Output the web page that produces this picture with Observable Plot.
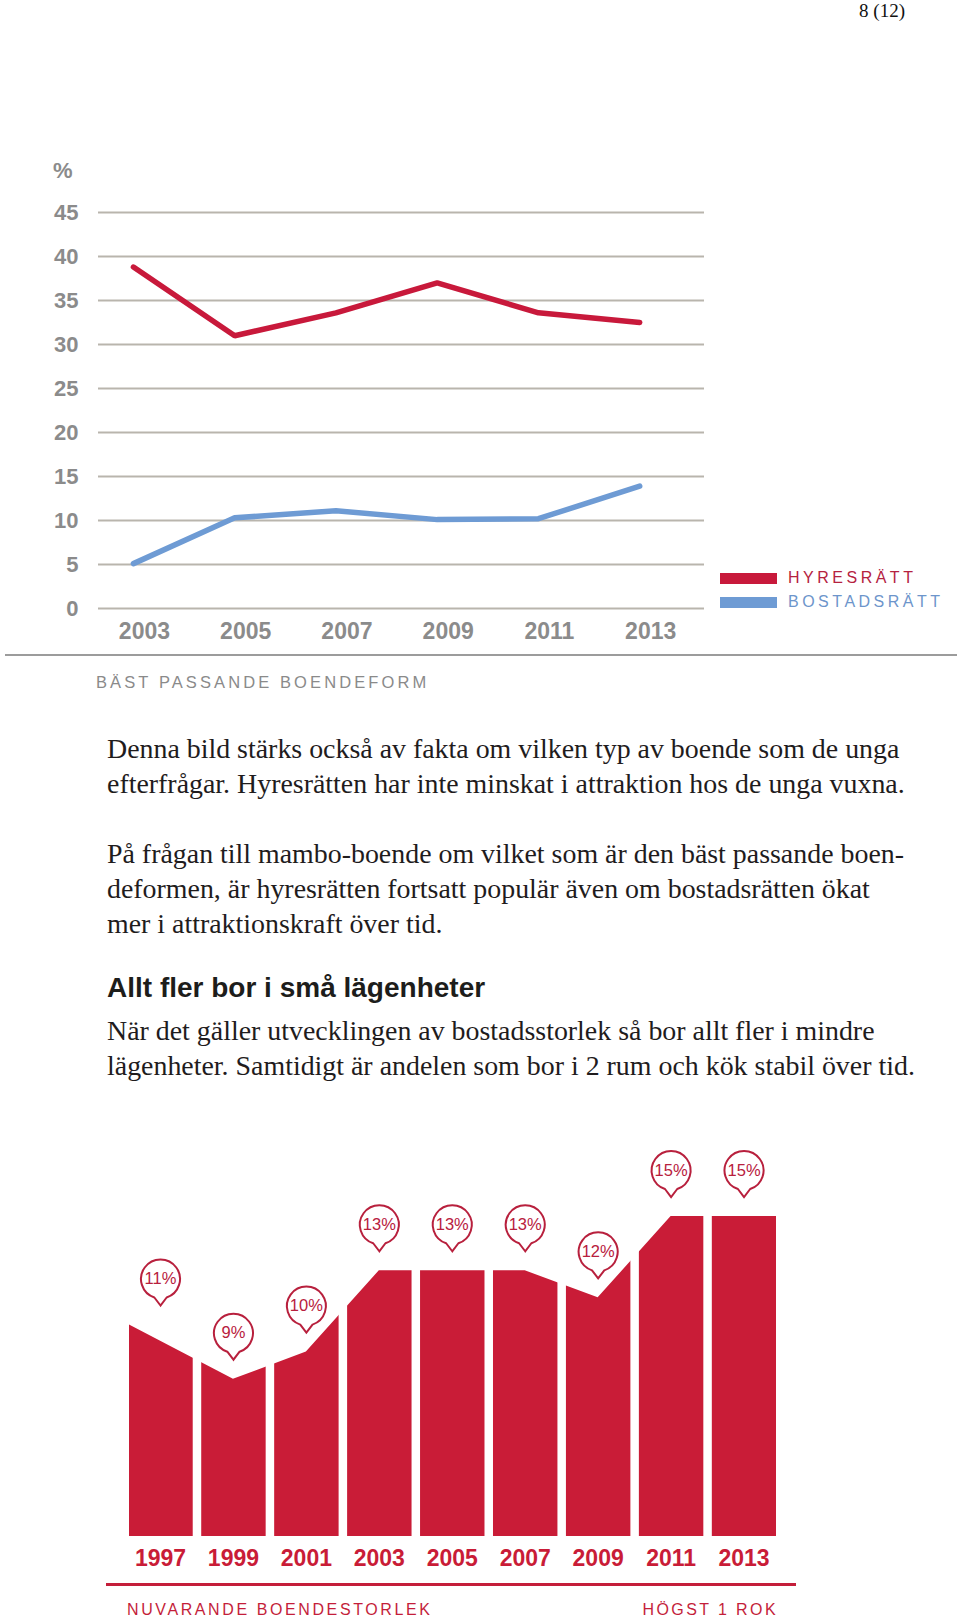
<!DOCTYPE html>
<html>
<head>
<meta charset="utf-8">
<script src="https://cdn.jsdelivr.net/npm/d3@7"></script>
<script src="https://cdn.jsdelivr.net/npm/@observablehq/plot@0.6"></script>
<style>
html, body { margin: 0; padding: 0; background: #fff; }
#page { position: relative; width: 960px; height: 1618px; overflow: hidden; background: #fff; }
.abs { position: absolute; white-space: nowrap; }
.serif { font-family: "Liberation Serif", "Times New Roman", serif; color: #1f1c1d; }
.sans { font-family: "Liberation Sans", Arial, sans-serif; }
.body { left: 107px; font-size: 27.9px; line-height: 35px; }
.caps { font-size: 16px; line-height: 20px; }
</style>
</head>
<body>
<div id="page">
  <div id="pageno" class="abs serif" style="right:55px; top:0px; font-size:19px; line-height:21px; color:#111;"></div>
  <div id="pct" class="abs sans" style="left:53px; top:158px; font-size:22px; font-weight:bold; color:#8b8b8b; line-height:26px;">%</div>
  <div id="linechart" class="abs" style="left:0; top:140px;"></div>
  <div id="legend"></div>
  <div class="abs" style="left:5px; top:654px; width:952px; height:2px; background:#9c9c9c;"></div>
  <div id="caption1" class="abs sans" style="left:96px; top:672px; font-size:16.5px; line-height:20px; color:#8a8a8a; letter-spacing:3.1px;"></div>
  <div id="para1" class="abs serif body" style="top:731px;"></div>
  <div id="para2" class="abs serif body" style="top:836.2px;"></div>
  <div id="heading" class="abs sans" style="left:107px; top:969.5px; font-size:28px; line-height:35px; font-weight:bold; color:#1d1d1b;"></div>
  <div id="para3" class="abs serif body" style="top:1012.8px;"></div>
  <div id="barchart" class="abs" style="left:0; top:1100px;"></div>
  <div class="abs" style="left:106px; top:1583px; width:690px; height:3px; background:#c41e3a;"></div>
  <div id="caption2" class="abs sans caps" style="left:127px; top:1600px; color:#c41e3a; letter-spacing:2.6px;"></div>
  <div id="caption3" class="abs sans caps" style="right:182px; top:1600px; color:#c41e3a; letter-spacing:2.4px;"></div>
</div>
<script>
// ---------- data ----------
const pageNumber = "8 (12)";
const lineYears = [2003, 2005, 2007, 2009, 2011, 2013];
const hyresratt = [38.8, 31.0, 33.6, 37.0, 33.6, 32.5];
const bostadsratt = [5.1, 10.3, 11.1, 10.1, 10.2, 13.9];
const seriesNames = ["HYRESRÄTT", "BOSTADSRÄTT"];
const seriesColors = ["#c8193b", "#6e9bd4"];
const legendTextColors = ["#b5223f", "#6d95cb"];
const lineYTicks = [0, 5, 10, 15, 20, 25, 30, 35, 40, 45];
const lineCaption = "BÄST PASSANDE BOENDEFORM";

const para1 = [
  "Denna bild stärks också av fakta om vilken typ av boende som de unga",
  "efterfrågar. Hyresrätten har inte minskat i attraktion hos de unga vuxna."
];
const para2 = [
  "På frågan till mambo-boende om vilket som är den bäst passande boen-",
  "deformen, är hyresrätten fortsatt populär även om bostadsrätten ökat",
  "mer i attraktionskraft över tid."
];
const heading = "Allt fler bor i små lägenheter";
const para3 = [
  "När det gäller utvecklingen av bostadsstorlek så bor allt fler i mindre",
  "lägenheter. Samtidigt är andelen som bor i 2 rum och kök stabil över tid."
];

const barYears = [1997, 1999, 2001, 2003, 2005, 2007, 2009, 2011, 2013];
const barShares = [11, 9, 10, 13, 13, 13, 12, 15, 15];
const barCaptionLeft = "NUVARANDE BOENDESTORLEK";
const barCaptionRight = "HÖGST 1 ROK";

const barRed = "#c91c37";
const pinRed = "#b8203d";
const grayText = "#8b8b8b";

// ---------- text ----------
document.getElementById("pageno").textContent = pageNumber;
document.getElementById("caption1").textContent = lineCaption;
document.getElementById("para1").innerHTML = para1.join("<br>");
document.getElementById("para2").innerHTML = para2.join("<br>");
document.getElementById("heading").textContent = heading;
document.getElementById("para3").innerHTML = para3.join("<br>");
document.getElementById("caption2").textContent = barCaptionLeft;
document.getElementById("caption3").textContent = barCaptionRight;

// legend
const legend = document.getElementById("legend");
seriesNames.forEach((name, i) => {
  const sw = document.createElement("div");
  sw.className = "abs";
  sw.style.cssText = `left:720px; top:${573 + i * 24}px; width:57px; height:11px; background:${seriesColors[i]};`;
  legend.appendChild(sw);
  const tx = document.createElement("div");
  tx.className = "abs sans";
  tx.style.cssText = `left:788px; top:${568 + i * 24}px; font-size:16px; line-height:20px; letter-spacing:3.5px; color:${legendTextColors[i]};`;
  tx.textContent = name;
  legend.appendChild(tx);
});

// ---------- line chart ----------
const lineRows = [];
lineYears.forEach((y, i) => {
  lineRows.push({year: y, value: hyresratt[i], series: seriesNames[0]});
});
lineYears.forEach((y, i) => {
  lineRows.push({year: y, value: bostadsratt[i], series: seriesNames[1]});
});

const lineChart = Plot.plot({
  width: 720,
  height: 520,
  marginLeft: 98,
  marginRight: 16,
  marginTop: 72,
  marginBottom: 52,
  style: {fontFamily: "'Liberation Sans', Arial, sans-serif", background: "transparent"},
  x: {domain: [2002.31, 2014.28], axis: null},
  y: {domain: [0, 45], axis: null},
  color: {domain: seriesNames, range: seriesColors},
  marks: [
    Plot.ruleY(lineYTicks, {stroke: "#b9b5ad", strokeWidth: 2}),
    Plot.text(lineYTicks, {y: d => d, text: d => String(d), frameAnchor: "left", dx: -20, textAnchor: "end",
      fontSize: 22, fontWeight: "bold", fill: grayText}),
    Plot.text(lineYears, {x: d => d, text: d => String(d), frameAnchor: "bottom", dy: 30, dx: 11,
      fontSize: 23, fontWeight: "bold", fill: grayText, letterSpacing: -0.5}),
    Plot.line(lineRows, {x: "year", y: "value", z: "series", stroke: "series", strokeWidth: 5.5,
      strokeLinecap: "round", strokeLinejoin: "miter"})
  ]
});
document.getElementById("linechart").appendChild(lineChart);

// ---------- bar chart ----------
const barRows = barYears.map((y, i) => ({year: y, value: barShares[i]}));
const xDomain = [1996.15, 2013.89];
const yBase = 3.2;
// outline of the bar tops: starts at the left edge of the first bar, ends flat on the last bar
const areaRows = [
  {year: xDomain[0], value: barShares[0]},
  ...barRows.slice(1),
  {year: xDomain[1], value: barShares[barShares.length - 1]}
];

const pinSymbol = {
  draw(context, size) {
    const r = Math.sqrt(size / Math.PI);
    const a = 0.32;
    context.moveTo(0, r * 1.36);
    context.arc(0, 0, r, Math.PI / 2 + a, Math.PI / 2 - a);
    context.closePath();
  }
};

const barChart = Plot.plot({
  width: 960,
  height: 480,
  marginLeft: 129,
  marginRight: 184,
  marginTop: 116,
  marginBottom: 44,
  style: {fontFamily: "'Liberation Sans', Arial, sans-serif", background: "transparent"},
  x: {domain: xDomain, axis: null},
  y: {domain: [yBase, 15], axis: null},
  marks: [
    Plot.areaY(areaRows, {x: "year", y1: yBase, y2: "value", fill: barRed}),
    Plot.ruleX(barYears.slice(0, -1), {x: d => d + 1, y1: yBase, y2: 15.5, stroke: "white", strokeWidth: 8.5}),
    Plot.dot(barRows, {x: "year", y: "value", r: 19.5, symbol: pinSymbol, fill: "white", stroke: pinRed,
      strokeWidth: 2, dy: -46}),
    Plot.text(barRows, {x: "year", y: "value", text: d => d.value + "%", dy: -46, fill: pinRed,
      fontSize: 16.5, letterSpacing: -0.6}),
    Plot.text(barYears, {x: d => d, text: d => String(d), frameAnchor: "bottom", dy: 29,
      fontSize: 23, fontWeight: "bold", fill: barRed, letterSpacing: -0.6})
  ]
});
document.getElementById("barchart").appendChild(barChart);
</script>
</body>
</html>
